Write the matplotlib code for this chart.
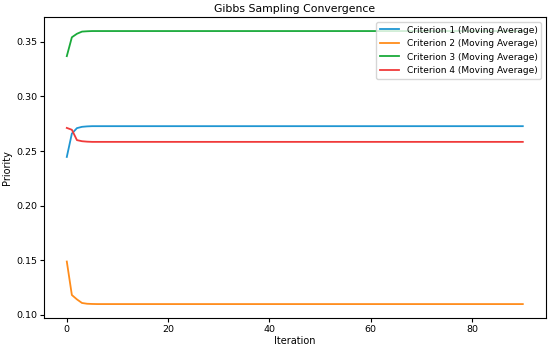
import matplotlib
matplotlib.use('Agg')
import matplotlib.pyplot as plt

# iterations 0..90
iteracoes = list(range(91))

# moving averages (first few points, then flat)
criterio_1 = [0.2446, 0.2660, 0.2710, 0.2722, 0.2726, 0.2728] + [0.2728] * 85
criterio_2 = [0.1487, 0.1180, 0.1140, 0.1107, 0.1100, 0.1098] + [0.1097] * 85
criterio_3 = [0.3370, 0.3543, 0.3575, 0.3595, 0.3598, 0.3600] + [0.3600] * 85
criterio_4 = [0.2712, 0.2695, 0.2600, 0.2590, 0.2586, 0.2584] + [0.2584] * 85

nomes = ['Criterion 1 (Moving Average)', 'Criterion 2 (Moving Average)',
         'Criterion 3 (Moving Average)', 'Criterion 4 (Moving Average)']
cores = ['#1f96d2', '#ff8c1a', '#1aaa3a', '#f03a3a']

fig, ax = plt.subplots(figsize=(5.5, 3.48), dpi=100)
fig.subplots_adjust(left=0.08, right=0.992, top=0.95, bottom=0.087)

for serie, nome, cor in zip([criterio_1, criterio_2, criterio_3, criterio_4], nomes, cores):
    ax.plot(iteracoes, serie, color=cor, label=nome, linewidth=1.3)

ax.set_title('Gibbs Sampling Convergence', fontsize=7.8, pad=4)
ax.set_xlabel('Iteration', fontsize=7, labelpad=2)
ax.set_ylabel('Priority', fontsize=7, labelpad=3)
ax.tick_params(labelsize=6.8, length=3, pad=2)
ax.set_xticks([0, 20, 40, 60, 80])
ax.set_yticks([0.10, 0.15, 0.20, 0.25, 0.30, 0.35])
ax.legend(loc='upper right', fontsize=6.5, borderaxespad=0.5, handlelength=2.2)

plt.savefig('out.png')
